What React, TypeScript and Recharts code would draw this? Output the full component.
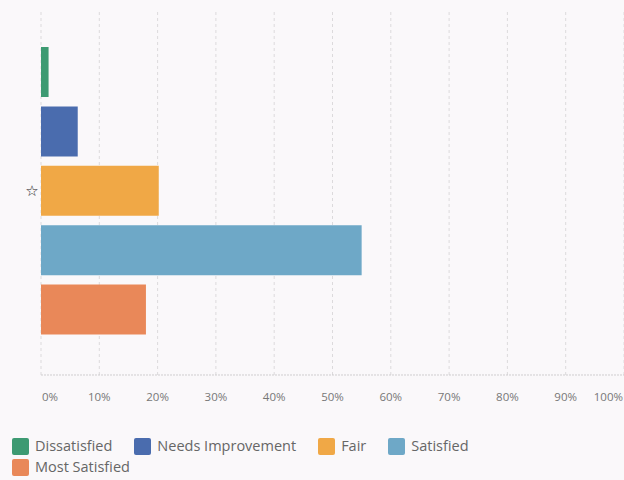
import { BarChart, Bar, XAxis, YAxis, CartesianGrid, Cell } from 'recharts'

const categories = ['Dissatisfied', 'Needs Improvement', 'Fair', 'Satisfied', 'Most Satisfied']
const percents = [1.3, 6.3, 20.2, 55, 18]
const colors = ['#3d9a72', '#4a6cae', '#f0a846', '#6ea8c7', '#e98859']
const starred = ['Fair']
const xTicks = [0, 10, 20, 30, 40, 50, 60, 70, 80, 90, 100]

const rows = categories.map((name, i) => ({ name, value: percents[i] }))

const FONT = '"Open Sans", Lato, sans-serif'

// first and last labels are pulled inside the plot, like the original
function PercentTick(props: any) {
  const { x, y, payload } = props
  const v = payload.value
  const anchor = v === 0 ? 'start' : v === 100 ? 'end' : 'middle'
  const dx = v === 0 ? 1 : v === 100 ? -1 : 0
  return (
    <text x={x + dx} y={y} dy="0.71em" textAnchor={anchor} fill="#777" fontSize={11.5} fontFamily={FONT}>
      {v}%
    </text>
  )
}

function StarTick(props: any) {
  const { x, y, payload } = props
  if (!starred.includes(payload.value)) return null
  return (
    <text x={x - 1} y={y} dy="0.35em" textAnchor="middle" fill="#222" fontSize={15} fontFamily="DejaVu Sans">
      ☆
    </text>
  )
}

export default function App() {
  return (
    <div
      style={{
        position: 'absolute',
        left: 0,
        top: 0,
        width: 624,
        height: 480,
        background: '#faf8fa',
        fontFamily: FONT,
      }}
    >
      <BarChart
        width={624}
        height={420}
        data={rows}
        layout="vertical"
        margin={{ top: 12, right: 0, bottom: 5, left: 0 }}
        barSize={50}
      >
        <CartesianGrid horizontal={false} stroke="#dcdadc" strokeDasharray="3 3" />
        <XAxis
          type="number"
          domain={[0, 100]}
          ticks={xTicks}
          interval={0}
          height={40}
          tickLine={false}
          tickMargin={12}
          axisLine={{ stroke: '#cfcdcf', strokeDasharray: '2 1' }}
          tick={<PercentTick />}
        />
        <YAxis
          type="category"
          dataKey="name"
          width={41}
          axisLine={false}
          tickLine={false}
          padding={{ top: 30, bottom: 36 }}
          tick={<StarTick />}
        />
        <Bar dataKey="value" isAnimationActive={false}>
          {rows.map((r, i) => (
            <Cell key={r.name} fill={colors[i]} />
          ))}
        </Bar>
      </BarChart>

      <div
        style={{
          position: 'absolute',
          left: 12,
          top: 436,
          width: 540,
          display: 'flex',
          flexWrap: 'wrap',
          rowGap: 1,
          fontSize: 14.5,
          lineHeight: '20px',
          color: '#666',
        }}
      >
        {categories.map((c, i) => (
          <div key={c} style={{ display: 'flex', alignItems: 'center', marginRight: 22 }}>
            <span
              style={{
                display: 'inline-block',
                width: 17,
                height: 17,
                borderRadius: 2,
                background: colors[i],
                marginRight: 6,
              }}
            />
            {c}
          </div>
        ))}
      </div>
    </div>
  )
}
